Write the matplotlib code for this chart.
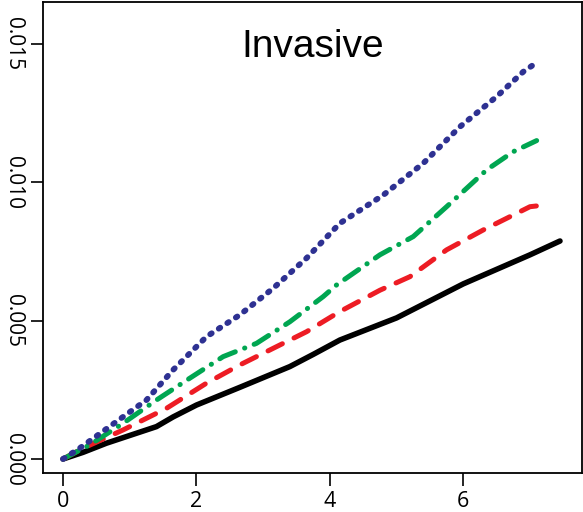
import matplotlib
matplotlib.use("Agg")
import matplotlib.pyplot as plt

# cumulative incidence curves
x_black = [0, 0.3, 0.65, 1.0, 1.4, 1.65, 2.0, 2.65, 3.4, 3.75, 4.15, 5.0, 6.0, 7.0, 7.45]
y_black = [0, 0.00024, 0.00057, 0.00085, 0.00117, 0.00152, 0.00195, 0.00259, 0.00334,
           0.00378, 0.0043, 0.0051, 0.00633, 0.00738, 0.00788]

x_red = [0, 0.3, 0.9, 1.55, 2.15, 2.65, 3.15, 3.65, 4.15, 4.75, 5.2, 5.75, 6.3, 6.85, 7.0, 7.22]
y_red = [0, 0.00039, 0.00105, 0.00183, 0.00274, 0.0034, 0.004, 0.0046, 0.00533, 0.0061,
         0.00659, 0.00756, 0.00828, 0.00894, 0.00912, 0.00918]

x_green = [0, 0.4, 0.9, 1.4, 1.9, 2.4, 2.9, 3.4, 3.9, 4.1, 4.75, 5.25, 5.75, 6.35, 6.75, 7.1]
y_green = [0, 0.00051, 0.00129, 0.00213, 0.00292, 0.0037, 0.00418, 0.00496, 0.00587,
           0.00629, 0.00738, 0.00804, 0.00912, 0.01045, 0.01111, 0.01151]

x_blue = [0, 0.25, 0.8, 1.25, 1.65, 2.15, 2.65, 3.15, 3.65, 4.15, 4.8, 5.4, 5.95, 6.5, 6.9, 7.1]
y_blue = [0, 0.00039, 0.00135, 0.00213, 0.00322, 0.00442, 0.00521, 0.00617, 0.00726,
          0.00852, 0.00954, 0.01069, 0.01201, 0.0131, 0.014, 0.01433]

xticks = [0, 2, 4, 6]
yticks = [0.000, 0.005, 0.010, 0.015]
ylabels = ["0.000", "0.005", "0.010", "0.015"]

fig = plt.figure(figsize=(5.83, 5.12), dpi=100)
ax = fig.add_axes([0.0738, 0.0762, 0.9245, 0.9199])

lw = 3.6
ax.plot(x_black, y_black, color="black", lw=lw + 0.4, solid_capstyle="round",
        solid_joinstyle="round")
ax.plot(x_red, y_red, color="#ED1C24", lw=lw, linestyle=(0, (3.2, 2.6)),
        dash_capstyle="round")
ax.plot(x_green, y_green, color="#00A651", lw=lw, linestyle=(0, (3.4, 2.0, 0.05, 2.0)),
        dash_capstyle="round")
ax.plot(x_blue, y_blue, color="#2E3192", lw=lw + 0.6, linestyle=(0, (0.3, 1.45)),
        dash_capstyle="round")

ax.set_xlim(-0.3, 7.78)
ax.set_ylim(-0.000506, 0.01652)

ax.set_xticks(xticks)
ax.set_xticklabels([str(t) for t in xticks], fontfamily="Open Sans", fontsize=15.5)
ax.set_yticks(yticks)
ax.set_yticklabels(ylabels, fontfamily="Open Sans", fontsize=15,
                   rotation=-90, va="center")
ax.tick_params(axis="both", direction="out", length=9, width=1.2, color="black")
ax.tick_params(axis="x", pad=4)
ax.tick_params(axis="y", pad=5)

for s in ax.spines.values():
    s.set_linewidth(1.3)

ax.text(0.5, 0.883, "Invasive", transform=ax.transAxes, ha="center", va="baseline",
        fontsize=28, fontfamily="Liberation Sans")

fig.savefig("out.png", dpi=100)
